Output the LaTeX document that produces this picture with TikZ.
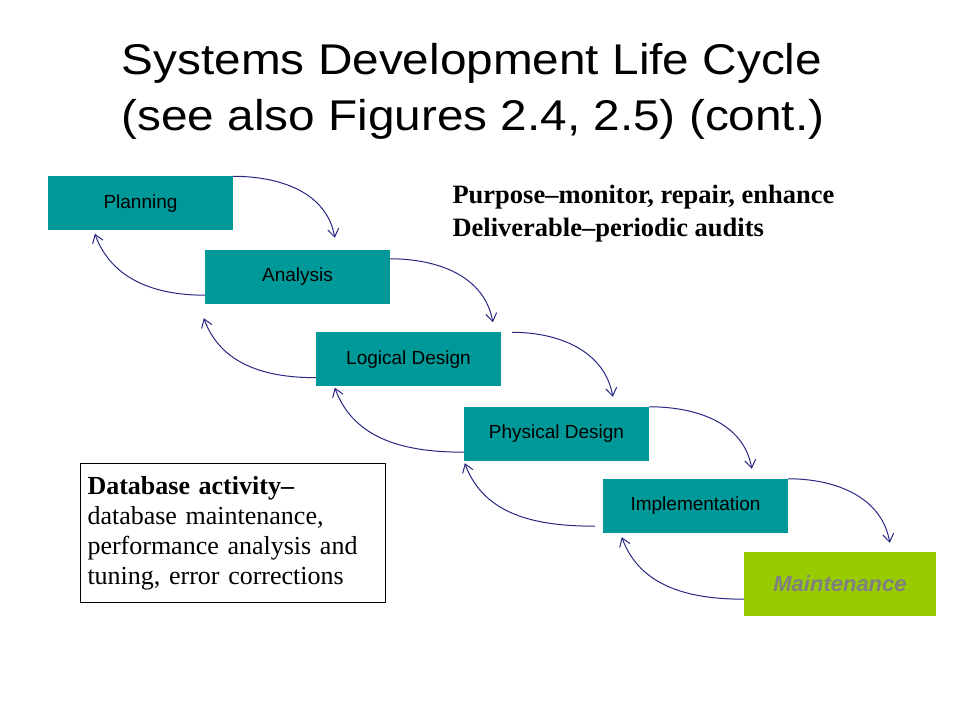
\documentclass[tikz,border=0pt]{standalone}
\usepackage{graphicx}
\usepackage{fontspec}
\setmainfont{Liberation Serif}
\setsansfont{Liberation Sans}
\usepackage{tikz}
\usetikzlibrary{arrows.meta}

\definecolor{phaseteal}{RGB}{0,153,153}
\definecolor{maintgreen}{RGB}{153,204,0}
\definecolor{arcblue}{RGB}{40,40,130}
\definecolor{labelgray}{RGB}{128,128,128}

\begin{document}
\begin{tikzpicture}[x=1pt, y=1pt,
    phase/.style={rectangle, fill=phaseteal, minimum width=185pt, minimum height=54pt,
                  inner sep=0pt, font=\sffamily\fontsize{19}{23}\selectfont},
    cyclearrow/.style={draw=arcblue, line width=1pt, -{Straight Barb[length=8pt,width=11pt]}}]

      \useasboundingbox (0,0) rectangle (960,720);

      % Title
      \node (title1) [anchor=base, font=\sffamily\fontsize{43}{48}\selectfont] at (472,645)
            {\scalebox{1.11}[1]{Systems Development Life Cycle}};
      \node (title2) [anchor=base, font=\sffamily\fontsize{43}{48}\selectfont] at (473,589)
            {\scalebox{1.11}[1]{(see also Figures 2.4, 2.5) (cont.)}};

      % Phases
      \node[phase] (plan) at (140.5,516.5) {Planning};
      \node[phase] (ana)  at (297.5,443) {Analysis};
      \node[phase] (logi) at (408.5,360.5) {Logical Design};
      \node[phase] (phys) at (556.5,286) {Physical Design};
      \node[phase] (impl) at (695.5,214) {Implementation};
      \node[phase, fill=maintgreen, minimum width=192pt, minimum height=64pt, text=labelgray,
            font=\sffamily\bfseries\itshape\fontsize{22}{26}\selectfont] (maint) at (840,136) {Maintenance};

      % Notes
      \node (purpose) [anchor=base west, font=\bfseries\fontsize{26.5}{30}\selectfont] at (449,516)
            {Purpose--monitor, repair, enhance};
      \node (deliv) [anchor=base west, font=\bfseries\fontsize{26.5}{30}\selectfont] at (449,483)
            {Deliverable--periodic audits};
      \node (dbact) [draw, line width=1pt, minimum width=305pt, minimum height=138pt,
                     text width=290pt, inner xsep=7.5pt, align=left,
                     font=\fontsize{26}{30}\selectfont] at (232.5,187)
            {\textbf{Database activity--}\\database maintenance,\\performance analysis and\\tuning, error corrections};

      % Forward arcs
      \draw[cyclearrow] (plan.north east) to[out=0,in=100] ([xshift=130pt,yshift=12pt]ana.north west);
      \draw[cyclearrow] ([yshift=-9pt]ana.north east) to[out=0,in=100] ([xshift=177pt,yshift=10pt]logi.north west);
      \draw[cyclearrow] ([xshift=11pt]logi.north east) to[out=0,in=100] ([xshift=149pt,yshift=10pt]phys.north west);
      \draw[cyclearrow] (phys.north east) to[out=0,in=100] ([xshift=149pt,yshift=10pt]impl.north west);
      \draw[cyclearrow] (impl.north east) to[out=0,in=100] ([xshift=146pt,yshift=9pt]maint.north west);

      % Backward arcs
      \draw[cyclearrow] ([yshift=9pt]ana.south west) to[out=180,in=-70] ([xshift=47pt,yshift=-3pt]plan.south west);
      \draw[cyclearrow] ([yshift=9pt]logi.south west) to[out=180,in=-70] ([xshift=-1pt,yshift=-14pt]ana.south west);
      \draw[cyclearrow] ([yshift=9pt]phys.south west) to[out=180,in=-70] ([xshift=19pt,yshift=-1pt]logi.south west);
      \draw[cyclearrow] ([xshift=-8pt,yshift=7pt]impl.south west) to[out=180,in=-70] ([xshift=1pt,yshift=-2pt]phys.south west);
      \draw[cyclearrow] ([yshift=17pt]maint.south west) to[out=180,in=-70] ([xshift=19pt,yshift=-4pt]impl.south west);

    \end{tikzpicture}
\end{document}
